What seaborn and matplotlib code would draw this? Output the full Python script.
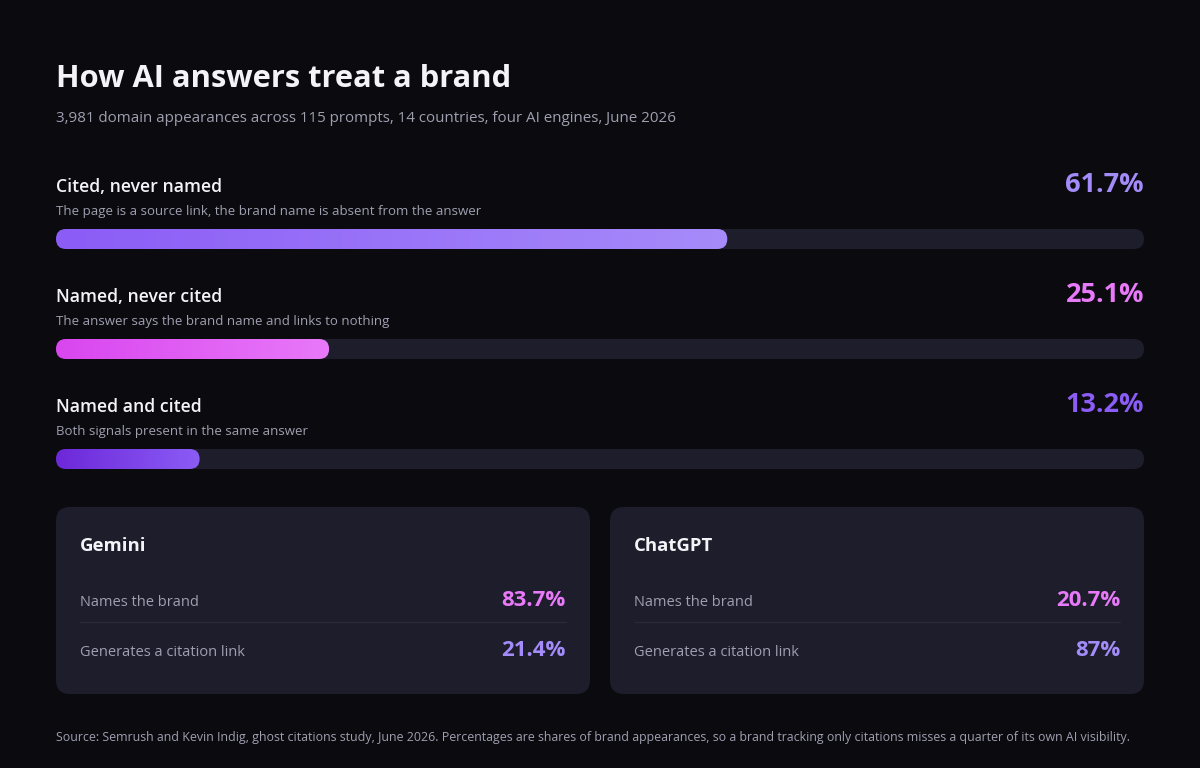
import matplotlib.pyplot as plt
import numpy as np
import seaborn as sns
from matplotlib.patches import FancyBboxPatch
from matplotlib.colors import LinearSegmentedColormap

title = "How AI answers treat a brand"
subtitle = "3,981 domain appearances across 115 prompts, 14 countries, four AI engines, June 2026"
labels = ["Cited, never named", "Named, never cited", "Named and cited"]
descs = ["The page is a source link, the brand name is absent from the answer",
         "The answer says the brand name and links to nothing",
         "Both signals present in the same answer"]
shares = [61.7, 25.1, 13.2]
engines = ["Gemini", "ChatGPT"]
metric_names = ["Names the brand", "Generates a citation link"]
names_brand = [83.7, 20.7]
citation_link = [21.4, 87]
footer = ("Source: Semrush and Kevin Indig, ghost citations study, June 2026. Percentages are shares of "
          "brand appearances, so a brand tracking only citations misses a quarter of its own AI visibility.")

BG = "#0a0a0f"
CARD = "#1e1d2b"
grads = [("#8b5cf6", "#a78bfa"), ("#d946ef", "#e879f9"), ("#6d28d9", "#8b5cf6")]
val_colors = ["#a38cf9", "#e879f9", "#8b5cf6"]

sns.set_theme(style="dark")
plt.rcParams['font.family'] = ['Open Sans', 'DejaVu Sans']

W, H = 1200, 768
fig = plt.figure(figsize=(12, 7.68), dpi=100, facecolor=BG)
ax = fig.add_axes([0, 0, 1, 1])
ax.set_xlim(0, W)
ax.set_ylim(H, 0)
ax.axis("off")
ax.set_facecolor(BG)

ax.text(56, 79, title, color="#f4f4f8", fontsize=22.2, fontweight="bold", va="center")
ax.text(56, 119, subtitle, color="#a09fb0", fontsize=10.9, va="center")

X0, X1 = 56, 1144
for i, (lab, d, v) in enumerate(zip(labels, descs, shares)):
    y = 187 + 110 * i
    ax.text(X0, y, lab, color="#f4f4f8", fontsize=12.7, fontweight="semibold", va="center")
    ax.text(X0, y + 25, d, color="#a09fb0", fontsize=9.5, va="center")
    ax.text(X1, y - 2, f"{v}%", color=val_colors[i], fontsize=19.5, fontweight="bold",
            va="center", ha="right")
    by = y + 42
    bax = fig.add_axes([X0 / W, 1 - (by + 20) / H, (X1 - X0) / W, 20 / H])
    bax.set_xlim(0, 100)
    bax.set_ylim(0, 1)
    bax.axis("off")
    r = 10 / ((X1 - X0) / 100)
    asp = 0.5 / r
    track = FancyBboxPatch((0, 0), 100, 1, boxstyle=f"round,pad=0,rounding_size={r}",
                           mutation_aspect=asp, fc=CARD, ec="none")
    bax.add_patch(track)
    bar = FancyBboxPatch((0, 0), v, 1, boxstyle=f"round,pad=0,rounding_size={r}",
                         mutation_aspect=asp, fc="none", ec="none")
    bax.add_patch(bar)
    cmap = LinearSegmentedColormap.from_list("g", grads[i])
    im = bax.imshow(np.linspace(0, 1, 256)[None, :], cmap=cmap, aspect="auto",
                    extent=[0, v, 0, 1], zorder=3)
    im.set_clip_path(bar)

for j, eng in enumerate(engines):
    cx = 56 + 554 * j
    card = FancyBboxPatch((cx, 507), 534, 187, boxstyle="round,pad=0,rounding_size=14",
                          fc=CARD, ec="none")
    ax.add_patch(card)
    ax.text(cx + 24, 546, eng, color="#f4f4f8", fontsize=13.3, fontweight="bold", va="center")
    vals = [names_brand[j], citation_link[j]]
    cols = ["#e879f9", "#a38cf9"]
    for k, (m, v) in enumerate(zip(metric_names, vals)):
        yy = 602 + 51 * k
        ax.text(cx + 24, yy, m, color="#a09fb0", fontsize=10.5, va="center")
        ax.text(cx + 510, yy - 2, f"{v:g}%", color=cols[k], fontsize=16,
                fontweight="bold", va="center", ha="right")
    ax.plot([cx + 24, cx + 510], [622, 622], color="#2a2938", lw=1)

ax.text(56, 738, footer, color="#a09fb0", fontsize=8.9, va="center")

fig.savefig("out.png", dpi=100, facecolor=BG)
